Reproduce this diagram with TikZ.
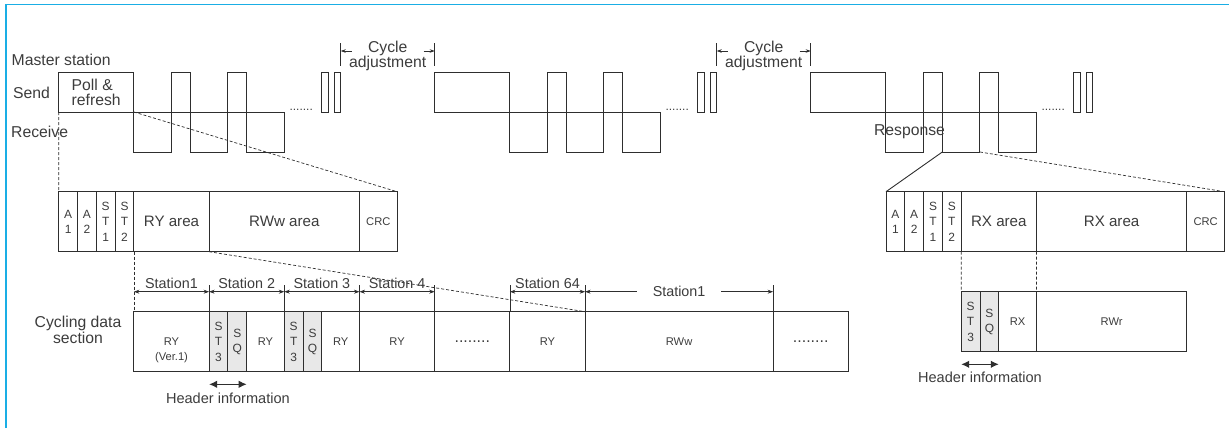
\documentclass[tikz,border=0pt]{standalone}
\usepackage{fontspec}
\setmainfont{Liberation Sans}
\definecolor{ccInk}{HTML}{2E2E2E}
\definecolor{ccText}{HTML}{3C3C3C}
\definecolor{ccShade}{HTML}{E8E8E8}
\definecolor{ccCyan}{HTML}{1AAEE5}
\usetikzlibrary{arrows.meta}

\begin{document}
\begin{tikzpicture}[
  x=1bp,y=-1bp,
  font=\fontsize{15.8}{15.5}\selectfont,text=ccText,
  wave/.style={draw=ccInk,line width=0.9bp},
  tick/.style={draw=ccInk,line width=0.8bp},
  guide/.style={draw=ccInk,line width=0.7bp,dash pattern=on 3bp off 2bp},
  cell/.style={draw=ccInk,line width=0.9bp,minimum height=60bp,inner sep=0pt,outer sep=0pt,
               align=center,font=\fontsize{11.2}{15.6}\selectfont},
  narrow/.style={cell,minimum width=18.8bp,font=\fontsize{12}{15.4}\selectfont},
  shade/.style={narrow,fill=ccShade},
  area/.style={cell,font=\fontsize{15.2}{17}\selectfont},
  gap/.style={cell,minimum width=75.2bp,font=\fontsize{16}{16}\selectfont},
  celltext/.style={inner sep=0pt,font=\fontsize{11.2}{15.6}\selectfont},
  lab/.style={inner sep=0pt,align=center},
  stlab/.style={inner sep=3bp,font=\fontsize{14.4}{16}\selectfont},
  hlab/.style={inner sep=0pt,font=\fontsize{14.6}{16}\selectfont},
  dotrow/.style={inner sep=0pt,font=\fontsize{12}{12}\selectfont},
  dim/.style={draw=ccInk,line width=0.7bp,{Stealth[length=5.5bp,width=4bp]}-{Stealth[length=5.5bp,width=4bp]}},
  adj/.style={draw=ccInk,line width=0.7bp,-{Stealth[length=5bp,width=3.5bp]}},
  hdr/.style={draw=ccInk,line width=1.2bp,{Latex[length=8bp,width=7.5bp]}-{Latex[length=8bp,width=7.5bp]}}
]
\useasboundingbox (0,0) rectangle (1229,428);
\draw[ccCyan,line width=1.5bp] (6,428) -- (6,4.3) -- (1229,4.3);

\foreach \s [count=\i] in {58.7,434.7,810.7}{
  \coordinate (base\i) at (\s,112);
  \coordinate (poll\i) at (\s+75.2,112);
  \coordinate (lowa\i) at (\s+131.6,152);
  \coordinate (lowb\i) at (\s+169.2,152);
  \draw[wave] (base\i) -- ++(0,-40) -- ++(75.2,0) -- ++(0,80) -- ++(37.6,0) -- ++(0,-80)
    -- ++(18.8,0) -- ++(0,80) -- ++(37.6,0) -- ++(0,-80) -- ++(18.8,0) -- ++(0,80)
    -- ++(37.6,0) -- ++(0,-40) -- cycle;
  \draw[wave] (\s+263.2,72) rectangle ++(6.2,40);
  \draw[wave] (\s+275.8,72) rectangle ++(6.2,40);
  \node[dotrow] (dots\i) at (\s+242.5,109.5) {.......};
}

\foreach \s [count=\i] in {58.7,434.7}{
  \coordinate (adjl\i) at (\s+282,51);
  \coordinate (adjr\i) at (\s+376,51);
  \draw[tick] (\s+282,43) -- (\s+282,66) (\s+376,43) -- (\s+376,66);
  \draw[adj] ([xshift=11bp]adjl\i) -- (adjl\i);
  \draw[adj] ([xshift=-11bp]adjr\i) -- (adjr\i);
  \node[lab] (adj\i) at (\s+329,56) {Cycle\\adjustment};
}

\node[lab,anchor=west] (master) at (11.5,60) {Master station};
\node[lab,anchor=west] (send) at (13,93) {Send};
\node[lab,anchor=west] (recv) at (11,132) {Receive};
\node[lab,anchor=west,align=left] (pollref) at (71.5,92.5) {Poll \&\\refresh};
\node[lab] (resp) at (909.5,132) {Response};
\node[lab] (cycsec) at (78,329.7) {Cycling data\\section};

\node[narrow] (la1) at (68.1,221.7) {A\\1};
\node[narrow] (la2) at (86.9,221.7) {A\\2};
\node[narrow] (lst1) at (105.7,221.7) {S\\T\\1};
\node[narrow] (lst2) at (124.5,221.7) {S\\T\\2};
\node[area,minimum width=75.2bp] (lry) at (171.5,221.7) {RY area};
\node[area,minimum width=150.4bp] (lrww) at (284.3,221.7) {RWw area};
\node[cell,minimum width=37.6bp] (lcrc) at (378.3,221.7) {CRC};

\node[narrow] (ra1) at (895.4,221.7) {A\\1};
\node[narrow] (ra2) at (914.2,221.7) {A\\2};
\node[narrow] (rst1) at (933,221.7) {S\\T\\1};
\node[narrow] (rst2) at (951.8,221.7) {S\\T\\2};
\node[area,minimum width=75.2bp] (rrx) at (998.8,221.7) {RX area};
\node[area,minimum width=150.4bp] (rrxb) at (1111.6,221.7) {RX area};
\node[cell,minimum width=37.6bp] (rcrc) at (1205.6,221.7) {CRC};

\node[cell,minimum width=75.2bp] (cry) at (171.5,341.7) {RY};
\node[celltext] (cver) at ([yshift=-15.6bp]cry.center) {(Ver.1)};
\node[shade] (cst3) at (218.5,341.7) {S\\T\\3};
\node[shade] (csq) at (237.3,341.7) {S\\Q};
\node[cell,minimum width=37.6bp] (cryb) at (265.5,341.7) {RY};
\node[shade] (cst3b) at (293.7,341.7) {S\\T\\3};
\node[shade] (csqb) at (312.5,341.7) {S\\Q};
\node[cell,minimum width=37.6bp] (cryc) at (340.7,341.7) {RY};
\node[cell,minimum width=75.2bp] (cryd) at (397.1,341.7) {RY};
\node[gap] (cgap) at (472.3,341.7) {........};
\node[cell,minimum width=75.2bp] (cry64) at (547.5,341.7) {RY};
\node[cell,minimum width=188bp] (crww) at (679.1,341.7) {RWw};
\node[gap] (cgapb) at (810.7,341.7) {........};

\node[shade] (dst3) at (970.6,321.7) {S\\T\\3};
\node[shade] (dsq) at (989.4,321.7) {S\\Q};
\node[cell,minimum width=37.6bp] (drx) at (1017.6,321.7) {RX};
\node[cell,minimum width=150.4bp] (drwr) at (1111.6,321.7) {RWr};

\draw[guide] (base1) -- (la1.north west);
\draw[guide] (poll1) -- (lcrc.north east);
\draw[guide] (lry.south west) -- (cry.north west);
\draw[guide] (lrww.south west) -- (crww.north west);
\draw[wave] (lowa3) -- (ra1.north west);
\draw[guide] (lowb3) -- (rcrc.north east);
\draw[guide] (rst2.south east) -- (dst3.north west);
\draw[guide] (rrx.south east) -- (drx.north east);

\foreach \n/\a in {cst3/north west,cst3b/north west,cryd/north west,cgap/north west,
                   cry64/north west,crww/north west,crww/north east}
  \draw[tick] (\n.\a) -- +(0,-27);

\draw[dim] ([yshift=20bp]cry.north west) -- node[stlab,above]{Station1} ([yshift=20bp]cry.north east);
\draw[dim] ([yshift=20bp]cst3.north west) -- node[stlab,above]{Station 2} ([yshift=20bp]cryb.north east);
\draw[dim] ([yshift=20bp]cst3b.north west) -- node[stlab,above]{Station 3} ([yshift=20bp]cryc.north east);
\draw[dim] ([yshift=20bp]cryd.north west) -- node[stlab,above]{Station 4} ([yshift=20bp]cryd.north east);
\draw[dim] ([yshift=20bp]cry64.north west) -- node[stlab,above]{Station 64} ([yshift=20bp]cry64.north east);
\draw[dim] ([yshift=20bp]crww.north west) -- node[stlab,fill=white,inner xsep=16bp,inner ysep=1bp]{Station1} ([yshift=20bp]crww.north east);

\draw[hdr] ([yshift=-12.6bp]cst3.south west) -- node[hlab,below=8bp]{Header information} ([yshift=-12.6bp]csq.south east);
\draw[hdr] ([yshift=-12.6bp]dst3.south west) -- node[hlab,below=7bp]{Header information} ([yshift=-12.6bp]dsq.south east);
\end{tikzpicture}
\end{document}
